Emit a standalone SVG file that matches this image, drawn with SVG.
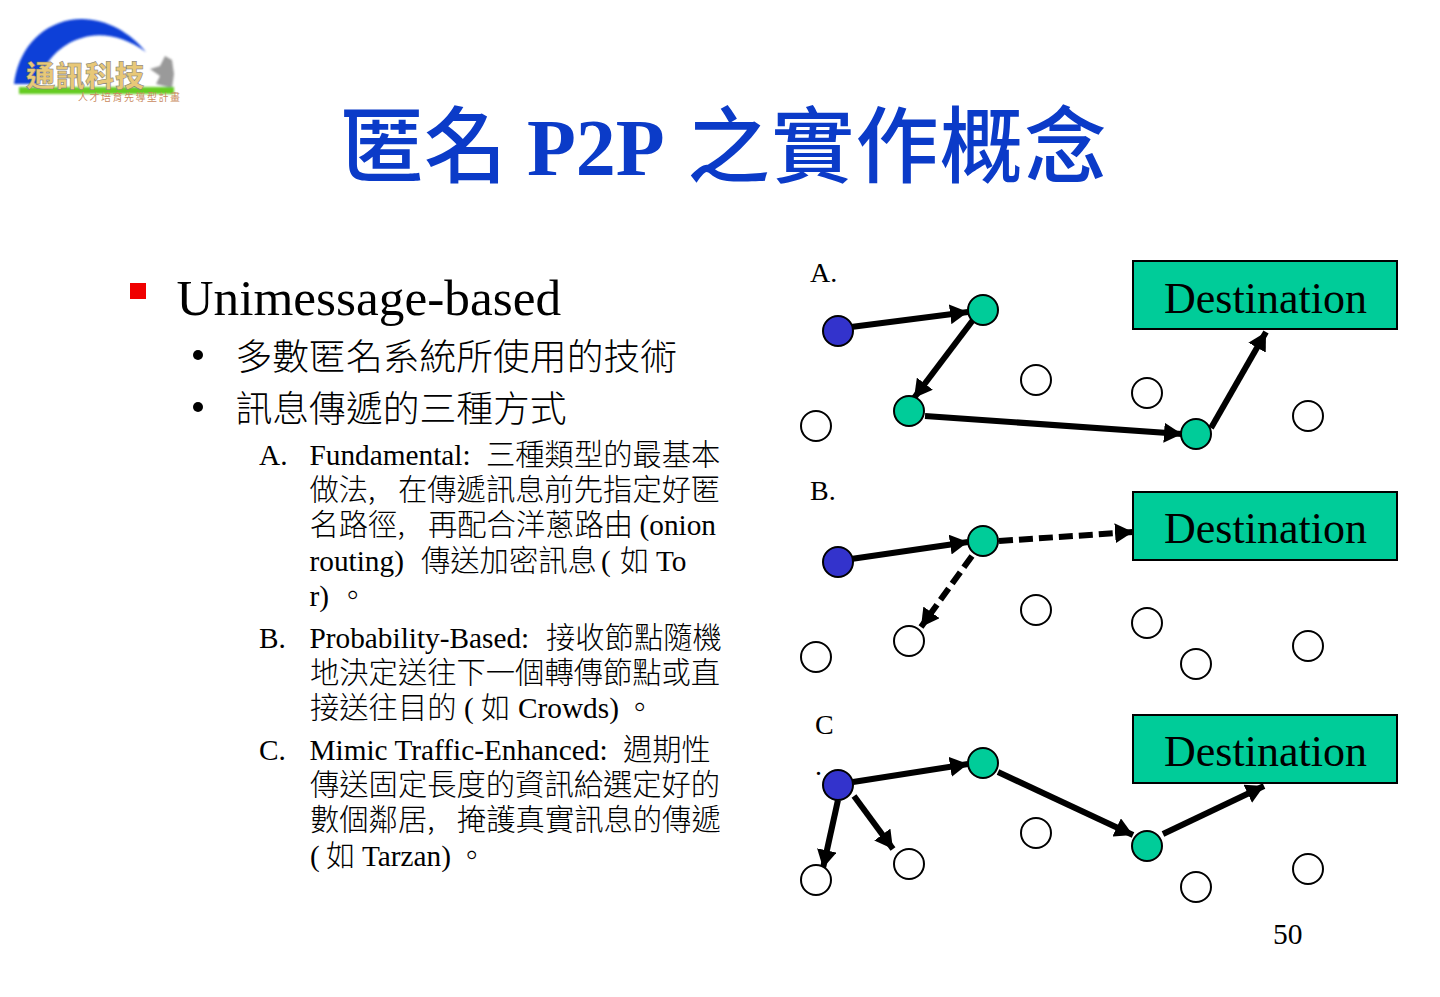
<svg xmlns="http://www.w3.org/2000/svg" width="1440" height="997" viewBox="0 0 1440 997">
<style>
text{font-family:"Liberation Serif","Noto Sans CJK TC",serif;fill:#000}
.cj{font-family:"Noto Sans CJK TC",sans-serif;font-weight:300}
.cp{font-family:"Noto Sans CJK SC",sans-serif;font-weight:300}
.b{font-size:29.3px}
.l1{font-size:36.8px}
.lab{font-size:28px}
.dest{font-size:44px;text-anchor:middle}
.title{font-size:80px;font-weight:700;fill:#0b3bc8}
.titlec{font-family:"Noto Sans CJK TC",sans-serif;font-size:83px;font-weight:500;fill:#0b3bc8}
.n{stroke:#000;stroke-width:2}
.w{fill:#fff}.g{fill:#00cc99}.u{fill:#3333cc}
.d{fill:#00cc99;stroke:#000;stroke-width:2}
.a{stroke:#000;stroke-width:6;fill:none;marker-end:url(#ah)}
.da{stroke-dasharray:14 6}
</style>
<defs>
<marker id="ah" markerUnits="userSpaceOnUse" markerWidth="20" markerHeight="20" refX="18" refY="10" orient="auto"><path d="M0 0L18 10L0 20z" fill="#000"/></marker>
<filter id="bl" x="-10%" y="-10%" width="120%" height="120%"><feGaussianBlur stdDeviation="0.8"/></filter>
</defs>
<rect width="1440" height="997" fill="#fff"/>
<g id="logo">
<g filter="url(#bl)">
<path d="M14 84C18 52 38 26 70 20C100 15 128 30 146 52C124 36 100 32 82 38C60 44 44 62 38 84z" fill="#0f3fd8"/>
<path d="M150 69L160 66L165 56L172 60L174 74L172 88L156 84L160 76z" fill="#9a9a9a"/>
<rect x="19" y="87" width="155" height="7" fill="#66cc22"/>
</g>
<text x="26" y="87" style="font-family:'Noto Sans CJK TC',sans-serif;font-size:29px;font-weight:900;fill:#e8c878;stroke:#777;stroke-width:.5" textLength="118">通訊科技</text>
<text x="78" y="101" style="font-family:'Noto Sans CJK TC',sans-serif;font-size:10px;fill:#c98a60" textLength="102">人才培育先導型計畫</text>
</g>
<g id="title">
<text x="341" y="176" class="titlec" textLength="166">匿名</text>
<text x="527" y="175" class="title">P2P</text>
<text x="687" y="176" class="titlec" textLength="420">之實作概念</text>
</g>
<g id="body">
<rect x="130" y="283" width="16" height="16" fill="#f00000"/>
<text x="176.500" y="315" font-size="51.300">Unimessage-based</text>
<circle cx="198" cy="355" r="5"/>
<text x="235.500" y="370" class="l1 cj">多數匿名系統所使用的技術</text>
<circle cx="198" cy="407" r="5"/>
<text x="235.500" y="422" class="l1 cj">訊息傳遞的三種方式</text>
<g class="b">
<text x="259" y="465">A.</text>
<text x="309.500" y="465">Fundamental:</text><text x="486" y="465" class="cj">三種類型的最基本</text>
<text x="309.500" y="500" class="cp">做法,</text><text x="398" y="500" class="cj">在傳遞訊息前先指定好匿</text>
<text x="309.500" y="535" class="cp">名路徑,</text><text x="428" y="535" class="cj">再配合洋蔥路由</text><text x="639.500" y="535">(onion</text>
<text x="309.500" y="571">routing)</text><text x="421" y="571" class="cj">傳送加密訊息</text><text x="601" y="571">(</text><text x="620" y="571" class="cj">如</text><text x="656" y="571">To</text>
<text x="309.500" y="606">r)</text><text x="338" y="606" class="cj">。</text>
<text x="259" y="648">B.</text>
<text x="309.500" y="648">Probability-Based:</text><text x="546" y="648" class="cj">接收節點隨機</text>
<text x="310" y="683" class="cj">地決定送往下一個轉傳節點或直</text>
<text x="310" y="718" class="cj">接送往目的</text><text x="464" y="718">(</text><text x="481" y="718" class="cj">如</text><text x="518" y="718">Crowds)</text><text x="625" y="718" class="cj">。</text>
<text x="259" y="760">C.</text>
<text x="309.500" y="760">Mimic Traffic-Enhanced:</text><text x="623" y="760" class="cj">週期性</text>
<text x="310" y="795" class="cj">傳送固定長度的資訊給選定好的</text>
<text x="310" y="830" class="cp">數個鄰居,</text><text x="457" y="830" class="cj">掩護真實訊息的傳遞</text>
<text x="310" y="866">(</text><text x="326" y="866" class="cj">如</text><text x="362" y="866">Tarzan)</text><text x="457" y="866" class="cj">。</text>
</g>
</g>
<g id="connectors">
<path class="a" d="M851 327L968 312"/>
<path class="a" d="M973 320L914 398"/>
<path class="a" d="M925 416L1182 434"/>
<path class="a" d="M1211 428L1266 332"/>
<path class="a" d="M851 559L968 542"/>
<path class="a da" d="M999 541L1133 532"/>
<path class="a da" d="M972 556L921 627"/>
<path class="a" d="M853 782L968 764"/>
<path class="a" d="M998 772L1133 835"/>
<path class="a" d="M1163 834L1264 786"/>
<path class="a" d="M838 800L823 868"/>
<path class="a" d="M854 796L893 849"/>
</g>
<g id="diagram-a">
<text x="810" y="282" class="lab">A.</text>
<g id="a-dest"><rect class="d" x="1133" y="261" width="264" height="68"/><text x="1265.500" y="313" class="dest">Destination</text></g>
<g id="a-src"><circle class="n u" cx="838" cy="331" r="15"/></g>
<g id="a-n1"><circle class="n g" cx="983" cy="310" r="15"/></g>
<g id="a-n2"><circle class="n g" cx="909" cy="411" r="15"/></g>
<g id="a-n3"><circle class="n g" cx="1196" cy="434" r="15"/></g>
<g id="a-n4"><circle class="n w" cx="1036" cy="380" r="15"/></g>
<g id="a-n5"><circle class="n w" cx="1147" cy="393" r="15"/></g>
<g id="a-n6"><circle class="n w" cx="816" cy="426" r="15"/></g>
<g id="a-n7"><circle class="n w" cx="1308" cy="416" r="15"/></g>
</g>
<g id="diagram-b">
<text x="810" y="500" class="lab">B.</text>
<g id="b-dest"><rect class="d" x="1133" y="492" width="264" height="68"/><text x="1265.500" y="543" class="dest">Destination</text></g>
<g id="b-src"><circle class="n u" cx="838" cy="562" r="15"/></g>
<g id="b-n1"><circle class="n g" cx="983" cy="541" r="15"/></g>
<g id="b-n2"><circle class="n w" cx="1036" cy="610" r="15"/></g>
<g id="b-n3"><circle class="n w" cx="1147" cy="623" r="15"/></g>
<g id="b-n4"><circle class="n w" cx="816" cy="657" r="15"/></g>
<g id="b-n5"><circle class="n w" cx="909" cy="641" r="15"/></g>
<g id="b-n6"><circle class="n w" cx="1196" cy="664" r="15"/></g>
<g id="b-n7"><circle class="n w" cx="1308" cy="646" r="15"/></g>
</g>
<g id="diagram-c">
<text x="815" y="734" class="lab">C</text><text x="815" y="775" class="lab">.</text>
<g id="c-dest"><rect class="d" x="1133" y="715" width="264" height="68"/><text x="1265.500" y="766" class="dest">Destination</text></g>
<g id="c-src"><circle class="n u" cx="838" cy="785" r="15"/></g>
<g id="c-n1"><circle class="n g" cx="983" cy="763" r="15"/></g>
<g id="c-n2"><circle class="n g" cx="1147" cy="846" r="15"/></g>
<g id="c-n3"><circle class="n w" cx="1036" cy="833" r="15"/></g>
<g id="c-n4"><circle class="n w" cx="909" cy="864" r="15"/></g>
<g id="c-n5"><circle class="n w" cx="816" cy="880" r="15"/></g>
<g id="c-n6"><circle class="n w" cx="1196" cy="887" r="15"/></g>
<g id="c-n7"><circle class="n w" cx="1308" cy="869" r="15"/></g>
</g>
<text x="1273" y="944" font-size="29.500">50</text>
</svg>
